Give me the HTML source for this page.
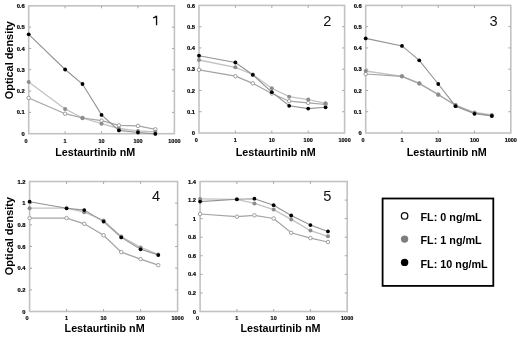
<!DOCTYPE html>
<html><head><meta charset="utf-8"><style>
html,body{margin:0;padding:0;background:#fff;}
body{width:520px;height:337px;overflow:hidden;}
svg{display:block;filter:blur(0.35px);}
text{font-family:"Liberation Sans", sans-serif;}
.yt{font-size:5.8px;font-weight:bold;text-anchor:end;fill:#000;stroke:#000;stroke-width:0.2px;}
.xt{font-size:5.5px;font-weight:bold;text-anchor:middle;fill:#000;stroke:#000;stroke-width:0.15px;}
.num{font-size:14.6px;text-anchor:middle;fill:#111;}
.xl{font-size:10.75px;font-weight:bold;text-anchor:middle;fill:#000;}
.yl{font-size:10.9px;font-weight:bold;text-anchor:middle;fill:#000;}
.lg{font-size:10.8px;font-weight:bold;fill:#000;}
</style></head><body>
<svg width="520" height="337" viewBox="0 0 520 337">
<rect x="28.7" y="5.8" width="145.7" height="127.9" fill="none" stroke="#c2c2c2" stroke-width="1.6"/>
<text x="24.7" y="135.8" class="yt">0</text>
<line x1="28.7" y1="112.38" x2="31.2" y2="112.38" stroke="#a8a8a8" stroke-width="1"/>
<line x1="174.4" y1="112.38" x2="171.9" y2="112.38" stroke="#a8a8a8" stroke-width="1"/>
<text x="24.7" y="114.48" class="yt">0.1</text>
<line x1="28.7" y1="91.07" x2="31.2" y2="91.07" stroke="#a8a8a8" stroke-width="1"/>
<line x1="174.4" y1="91.07" x2="171.9" y2="91.07" stroke="#a8a8a8" stroke-width="1"/>
<text x="24.7" y="93.17" class="yt">0.2</text>
<line x1="28.7" y1="69.75" x2="31.2" y2="69.75" stroke="#a8a8a8" stroke-width="1"/>
<line x1="174.4" y1="69.75" x2="171.9" y2="69.75" stroke="#a8a8a8" stroke-width="1"/>
<text x="24.7" y="71.85" class="yt">0.3</text>
<line x1="28.7" y1="48.43" x2="31.2" y2="48.43" stroke="#a8a8a8" stroke-width="1"/>
<line x1="174.4" y1="48.43" x2="171.9" y2="48.43" stroke="#a8a8a8" stroke-width="1"/>
<text x="24.7" y="50.53" class="yt">0.4</text>
<line x1="28.7" y1="27.12" x2="31.2" y2="27.12" stroke="#a8a8a8" stroke-width="1"/>
<line x1="174.4" y1="27.12" x2="171.9" y2="27.12" stroke="#a8a8a8" stroke-width="1"/>
<text x="24.7" y="29.22" class="yt">0.5</text>
<text x="24.7" y="7.9" class="yt">0.6</text>
<text x="26.1" y="142.6" class="xt">0</text>
<line x1="65.12" y1="133.7" x2="65.12" y2="131.2" stroke="#a8a8a8" stroke-width="1"/>
<line x1="65.12" y1="5.8" x2="65.12" y2="8.3" stroke="#a8a8a8" stroke-width="1"/>
<text x="65.12" y="142.6" class="xt">1</text>
<line x1="101.55" y1="133.7" x2="101.55" y2="131.2" stroke="#a8a8a8" stroke-width="1"/>
<line x1="101.55" y1="5.8" x2="101.55" y2="8.3" stroke="#a8a8a8" stroke-width="1"/>
<text x="101.55" y="142.6" class="xt">10</text>
<line x1="137.97" y1="133.7" x2="137.97" y2="131.2" stroke="#a8a8a8" stroke-width="1"/>
<line x1="137.97" y1="5.8" x2="137.97" y2="8.3" stroke="#a8a8a8" stroke-width="1"/>
<text x="137.97" y="142.6" class="xt">100</text>
<text x="174.4" y="142.6" class="xt">1000</text>
<polyline points="28.7,81.9 65.12,108.9 82.5,118 101.55,123.7 118.93,128.5 137.97,130.9 155.35,131.8" fill="none" stroke="#c2c2c2" stroke-width="1.3"/>
<polyline points="28.7,98 65.12,113.7 82.5,118 101.55,120.7 118.93,125.4 137.97,125.9 155.35,129.3" fill="none" stroke="#a4a4a4" stroke-width="1.25"/>
<polyline points="28.7,34.3 65.12,69.5 82.5,84 101.55,114.9 118.93,130.4 137.97,132.5 155.35,133.9" fill="none" stroke="#929292" stroke-width="1.1"/>
<circle cx="28.7" cy="98" r="1.75" fill="#fff" stroke="#999" stroke-width="0.95"/>
<circle cx="65.12" cy="113.7" r="1.75" fill="#fff" stroke="#999" stroke-width="0.95"/>
<circle cx="82.5" cy="118" r="1.75" fill="#fff" stroke="#999" stroke-width="0.95"/>
<circle cx="101.55" cy="120.7" r="1.75" fill="#fff" stroke="#999" stroke-width="0.95"/>
<circle cx="118.93" cy="125.4" r="1.75" fill="#fff" stroke="#999" stroke-width="0.95"/>
<circle cx="137.97" cy="125.9" r="1.75" fill="#fff" stroke="#999" stroke-width="0.95"/>
<circle cx="155.35" cy="129.3" r="1.75" fill="#fff" stroke="#999" stroke-width="0.95"/>
<circle cx="28.7" cy="81.9" r="2" fill="#8c8c8c"/>
<circle cx="65.12" cy="108.9" r="2" fill="#8c8c8c"/>
<circle cx="82.5" cy="118" r="2" fill="#8c8c8c"/>
<circle cx="101.55" cy="123.7" r="2" fill="#8c8c8c"/>
<circle cx="118.93" cy="128.5" r="2" fill="#8c8c8c"/>
<circle cx="137.97" cy="130.9" r="2" fill="#8c8c8c"/>
<circle cx="155.35" cy="131.8" r="2" fill="#8c8c8c"/>
<circle cx="28.7" cy="34.3" r="1.9" fill="#000"/>
<circle cx="65.12" cy="69.5" r="1.9" fill="#000"/>
<circle cx="82.5" cy="84" r="1.9" fill="#000"/>
<circle cx="101.55" cy="114.9" r="1.9" fill="#000"/>
<circle cx="118.93" cy="130.4" r="1.9" fill="#000"/>
<circle cx="137.97" cy="132.5" r="1.9" fill="#000"/>
<circle cx="155.35" cy="133.9" r="1.9" fill="#000"/>
<path d="M156.55,25.2V15.7M156.5,15.9C155.9,17.1 154.7,17.7 153.1,17.95" fill="none" stroke="#111" stroke-width="1.35"/>
<rect x="199" y="5.4" width="145.6" height="127.6" fill="none" stroke="#c2c2c2" stroke-width="1.6"/>
<text x="195" y="135.1" class="yt">0</text>
<line x1="199" y1="111.73" x2="201.5" y2="111.73" stroke="#a8a8a8" stroke-width="1"/>
<line x1="344.6" y1="111.73" x2="342.1" y2="111.73" stroke="#a8a8a8" stroke-width="1"/>
<text x="195" y="113.83" class="yt">0.1</text>
<line x1="199" y1="90.47" x2="201.5" y2="90.47" stroke="#a8a8a8" stroke-width="1"/>
<line x1="344.6" y1="90.47" x2="342.1" y2="90.47" stroke="#a8a8a8" stroke-width="1"/>
<text x="195" y="92.57" class="yt">0.2</text>
<line x1="199" y1="69.2" x2="201.5" y2="69.2" stroke="#a8a8a8" stroke-width="1"/>
<line x1="344.6" y1="69.2" x2="342.1" y2="69.2" stroke="#a8a8a8" stroke-width="1"/>
<text x="195" y="71.3" class="yt">0.3</text>
<line x1="199" y1="47.93" x2="201.5" y2="47.93" stroke="#a8a8a8" stroke-width="1"/>
<line x1="344.6" y1="47.93" x2="342.1" y2="47.93" stroke="#a8a8a8" stroke-width="1"/>
<text x="195" y="50.03" class="yt">0.4</text>
<line x1="199" y1="26.67" x2="201.5" y2="26.67" stroke="#a8a8a8" stroke-width="1"/>
<line x1="344.6" y1="26.67" x2="342.1" y2="26.67" stroke="#a8a8a8" stroke-width="1"/>
<text x="195" y="28.77" class="yt">0.5</text>
<text x="195" y="7.5" class="yt">0.6</text>
<text x="196.4" y="141.9" class="xt">0</text>
<line x1="235.4" y1="133" x2="235.4" y2="130.5" stroke="#a8a8a8" stroke-width="1"/>
<line x1="235.4" y1="5.4" x2="235.4" y2="7.9" stroke="#a8a8a8" stroke-width="1"/>
<text x="235.4" y="141.9" class="xt">1</text>
<line x1="271.8" y1="133" x2="271.8" y2="130.5" stroke="#a8a8a8" stroke-width="1"/>
<line x1="271.8" y1="5.4" x2="271.8" y2="7.9" stroke="#a8a8a8" stroke-width="1"/>
<text x="271.8" y="141.9" class="xt">10</text>
<line x1="308.2" y1="133" x2="308.2" y2="130.5" stroke="#a8a8a8" stroke-width="1"/>
<line x1="308.2" y1="5.4" x2="308.2" y2="7.9" stroke="#a8a8a8" stroke-width="1"/>
<text x="308.2" y="141.9" class="xt">100</text>
<text x="344.6" y="141.9" class="xt">1000</text>
<polyline points="199,60 235.4,67.3 252.77,74.5 271.8,88.3 289.17,96.7 308.2,99.6 325.57,103.3" fill="none" stroke="#c2c2c2" stroke-width="1.3"/>
<polyline points="199,69.8 235.4,76.2 252.77,83.3 271.8,93.5 289.17,101.2 308.2,102.9 325.57,104.5" fill="none" stroke="#a4a4a4" stroke-width="1.25"/>
<polyline points="199,55.7 235.4,62.5 252.77,74.8 271.8,92.2 289.17,105.8 308.2,108.6 325.57,107.3" fill="none" stroke="#929292" stroke-width="1.1"/>
<circle cx="199" cy="69.8" r="1.75" fill="#fff" stroke="#999" stroke-width="0.95"/>
<circle cx="235.4" cy="76.2" r="1.75" fill="#fff" stroke="#999" stroke-width="0.95"/>
<circle cx="252.77" cy="83.3" r="1.75" fill="#fff" stroke="#999" stroke-width="0.95"/>
<circle cx="271.8" cy="93.5" r="1.75" fill="#fff" stroke="#999" stroke-width="0.95"/>
<circle cx="289.17" cy="101.2" r="1.75" fill="#fff" stroke="#999" stroke-width="0.95"/>
<circle cx="308.2" cy="102.9" r="1.75" fill="#fff" stroke="#999" stroke-width="0.95"/>
<circle cx="325.57" cy="104.5" r="1.75" fill="#fff" stroke="#999" stroke-width="0.95"/>
<circle cx="199" cy="60" r="2" fill="#8c8c8c"/>
<circle cx="235.4" cy="67.3" r="2" fill="#8c8c8c"/>
<circle cx="252.77" cy="74.5" r="2" fill="#8c8c8c"/>
<circle cx="271.8" cy="88.3" r="2" fill="#8c8c8c"/>
<circle cx="289.17" cy="96.7" r="2" fill="#8c8c8c"/>
<circle cx="308.2" cy="99.6" r="2" fill="#8c8c8c"/>
<circle cx="325.57" cy="103.3" r="2" fill="#8c8c8c"/>
<circle cx="199" cy="55.7" r="1.9" fill="#000"/>
<circle cx="235.4" cy="62.5" r="1.9" fill="#000"/>
<circle cx="252.77" cy="74.8" r="1.9" fill="#000"/>
<circle cx="271.8" cy="92.2" r="1.9" fill="#000"/>
<circle cx="289.17" cy="105.8" r="1.9" fill="#000"/>
<circle cx="308.2" cy="108.6" r="1.9" fill="#000"/>
<circle cx="325.57" cy="107.3" r="1.9" fill="#000"/>
<text x="327.3" y="25.6" class="num">2</text>
<rect x="365.7" y="5.4" width="145.1" height="127.6" fill="none" stroke="#c2c2c2" stroke-width="1.6"/>
<text x="361.7" y="135.1" class="yt">0</text>
<line x1="365.7" y1="111.73" x2="368.2" y2="111.73" stroke="#a8a8a8" stroke-width="1"/>
<line x1="510.8" y1="111.73" x2="508.3" y2="111.73" stroke="#a8a8a8" stroke-width="1"/>
<text x="361.7" y="113.83" class="yt">0.1</text>
<line x1="365.7" y1="90.47" x2="368.2" y2="90.47" stroke="#a8a8a8" stroke-width="1"/>
<line x1="510.8" y1="90.47" x2="508.3" y2="90.47" stroke="#a8a8a8" stroke-width="1"/>
<text x="361.7" y="92.57" class="yt">0.2</text>
<line x1="365.7" y1="69.2" x2="368.2" y2="69.2" stroke="#a8a8a8" stroke-width="1"/>
<line x1="510.8" y1="69.2" x2="508.3" y2="69.2" stroke="#a8a8a8" stroke-width="1"/>
<text x="361.7" y="71.3" class="yt">0.3</text>
<line x1="365.7" y1="47.93" x2="368.2" y2="47.93" stroke="#a8a8a8" stroke-width="1"/>
<line x1="510.8" y1="47.93" x2="508.3" y2="47.93" stroke="#a8a8a8" stroke-width="1"/>
<text x="361.7" y="50.03" class="yt">0.4</text>
<line x1="365.7" y1="26.67" x2="368.2" y2="26.67" stroke="#a8a8a8" stroke-width="1"/>
<line x1="510.8" y1="26.67" x2="508.3" y2="26.67" stroke="#a8a8a8" stroke-width="1"/>
<text x="361.7" y="28.77" class="yt">0.5</text>
<text x="361.7" y="7.5" class="yt">0.6</text>
<text x="363.1" y="141.9" class="xt">0</text>
<line x1="401.98" y1="133" x2="401.98" y2="130.5" stroke="#a8a8a8" stroke-width="1"/>
<line x1="401.98" y1="5.4" x2="401.98" y2="7.9" stroke="#a8a8a8" stroke-width="1"/>
<text x="401.98" y="141.9" class="xt">1</text>
<line x1="438.25" y1="133" x2="438.25" y2="130.5" stroke="#a8a8a8" stroke-width="1"/>
<line x1="438.25" y1="5.4" x2="438.25" y2="7.9" stroke="#a8a8a8" stroke-width="1"/>
<text x="438.25" y="141.9" class="xt">10</text>
<line x1="474.52" y1="133" x2="474.52" y2="130.5" stroke="#a8a8a8" stroke-width="1"/>
<line x1="474.52" y1="5.4" x2="474.52" y2="7.9" stroke="#a8a8a8" stroke-width="1"/>
<text x="474.52" y="141.9" class="xt">100</text>
<text x="510.8" y="141.9" class="xt">1000</text>
<polyline points="365.7,71 401.98,76.3 419.28,83.6 438.25,94.7 455.56,105 474.52,112.5 491.83,115" fill="none" stroke="#c2c2c2" stroke-width="1.3"/>
<polyline points="365.7,74 401.98,76.3 419.28,83.3 438.25,94.5 455.56,105.5 474.52,113 491.83,115.5" fill="none" stroke="#a4a4a4" stroke-width="1.25"/>
<polyline points="365.7,38.4 401.98,45.9 419.28,60.3 438.25,84 455.56,106.2 474.52,113.8 491.83,116" fill="none" stroke="#929292" stroke-width="1.1"/>
<circle cx="365.7" cy="74" r="1.75" fill="#fff" stroke="#999" stroke-width="0.95"/>
<circle cx="401.98" cy="76.3" r="1.75" fill="#fff" stroke="#999" stroke-width="0.95"/>
<circle cx="419.28" cy="83.3" r="1.75" fill="#fff" stroke="#999" stroke-width="0.95"/>
<circle cx="438.25" cy="94.5" r="1.75" fill="#fff" stroke="#999" stroke-width="0.95"/>
<circle cx="455.56" cy="105.5" r="1.75" fill="#fff" stroke="#999" stroke-width="0.95"/>
<circle cx="474.52" cy="113" r="1.75" fill="#fff" stroke="#999" stroke-width="0.95"/>
<circle cx="491.83" cy="115.5" r="1.75" fill="#fff" stroke="#999" stroke-width="0.95"/>
<circle cx="365.7" cy="71" r="2" fill="#8c8c8c"/>
<circle cx="401.98" cy="76.3" r="2" fill="#8c8c8c"/>
<circle cx="419.28" cy="83.6" r="2" fill="#8c8c8c"/>
<circle cx="438.25" cy="94.7" r="2" fill="#8c8c8c"/>
<circle cx="455.56" cy="105" r="2" fill="#8c8c8c"/>
<circle cx="474.52" cy="112.5" r="2" fill="#8c8c8c"/>
<circle cx="491.83" cy="115" r="2" fill="#8c8c8c"/>
<circle cx="365.7" cy="38.4" r="1.9" fill="#000"/>
<circle cx="401.98" cy="45.9" r="1.9" fill="#000"/>
<circle cx="419.28" cy="60.3" r="1.9" fill="#000"/>
<circle cx="438.25" cy="84" r="1.9" fill="#000"/>
<circle cx="455.56" cy="106.2" r="1.9" fill="#000"/>
<circle cx="474.52" cy="113.8" r="1.9" fill="#000"/>
<circle cx="491.83" cy="116" r="1.9" fill="#000"/>
<text x="493.5" y="25.6" class="num">3</text>
<rect x="29.6" y="181.5" width="148" height="130" fill="none" stroke="#c2c2c2" stroke-width="1.6"/>
<text x="25.6" y="313.6" class="yt">0</text>
<line x1="29.6" y1="289.83" x2="32.1" y2="289.83" stroke="#a8a8a8" stroke-width="1"/>
<line x1="177.6" y1="289.83" x2="175.1" y2="289.83" stroke="#a8a8a8" stroke-width="1"/>
<text x="25.6" y="291.93" class="yt">0.2</text>
<line x1="29.6" y1="268.17" x2="32.1" y2="268.17" stroke="#a8a8a8" stroke-width="1"/>
<line x1="177.6" y1="268.17" x2="175.1" y2="268.17" stroke="#a8a8a8" stroke-width="1"/>
<text x="25.6" y="270.27" class="yt">0.4</text>
<line x1="29.6" y1="246.5" x2="32.1" y2="246.5" stroke="#a8a8a8" stroke-width="1"/>
<line x1="177.6" y1="246.5" x2="175.1" y2="246.5" stroke="#a8a8a8" stroke-width="1"/>
<text x="25.6" y="248.6" class="yt">0.6</text>
<line x1="29.6" y1="224.83" x2="32.1" y2="224.83" stroke="#a8a8a8" stroke-width="1"/>
<line x1="177.6" y1="224.83" x2="175.1" y2="224.83" stroke="#a8a8a8" stroke-width="1"/>
<text x="25.6" y="226.93" class="yt">0.8</text>
<line x1="29.6" y1="203.17" x2="32.1" y2="203.17" stroke="#a8a8a8" stroke-width="1"/>
<line x1="177.6" y1="203.17" x2="175.1" y2="203.17" stroke="#a8a8a8" stroke-width="1"/>
<text x="25.6" y="205.27" class="yt">1</text>
<text x="25.6" y="183.6" class="yt">1.2</text>
<text x="27" y="320.4" class="xt">0</text>
<line x1="66.6" y1="311.5" x2="66.6" y2="309" stroke="#a8a8a8" stroke-width="1"/>
<line x1="66.6" y1="181.5" x2="66.6" y2="184" stroke="#a8a8a8" stroke-width="1"/>
<text x="66.6" y="320.4" class="xt">1</text>
<line x1="103.6" y1="311.5" x2="103.6" y2="309" stroke="#a8a8a8" stroke-width="1"/>
<line x1="103.6" y1="181.5" x2="103.6" y2="184" stroke="#a8a8a8" stroke-width="1"/>
<text x="103.6" y="320.4" class="xt">10</text>
<line x1="140.6" y1="311.5" x2="140.6" y2="309" stroke="#a8a8a8" stroke-width="1"/>
<line x1="140.6" y1="181.5" x2="140.6" y2="184" stroke="#a8a8a8" stroke-width="1"/>
<text x="140.6" y="320.4" class="xt">100</text>
<text x="177.6" y="320.4" class="xt">1000</text>
<polyline points="29.6,208.2 66.6,208.2 84.25,212.2 103.6,220.5 121.25,236.5 140.6,247.4 158.25,254.4" fill="none" stroke="#c2c2c2" stroke-width="1.3"/>
<polyline points="29.6,218.1 66.6,218.1 84.25,223.8 103.6,235.3 121.25,252.1 140.6,259.1 158.25,265.2" fill="none" stroke="#a4a4a4" stroke-width="1.25"/>
<polyline points="29.6,201.7 66.6,208.3 84.25,210.1 103.6,221.6 121.25,237.4 140.6,249.3 158.25,255.1" fill="none" stroke="#929292" stroke-width="1.1"/>
<circle cx="29.6" cy="218.1" r="1.75" fill="#fff" stroke="#999" stroke-width="0.95"/>
<circle cx="66.6" cy="218.1" r="1.75" fill="#fff" stroke="#999" stroke-width="0.95"/>
<circle cx="84.25" cy="223.8" r="1.75" fill="#fff" stroke="#999" stroke-width="0.95"/>
<circle cx="103.6" cy="235.3" r="1.75" fill="#fff" stroke="#999" stroke-width="0.95"/>
<circle cx="121.25" cy="252.1" r="1.75" fill="#fff" stroke="#999" stroke-width="0.95"/>
<circle cx="140.6" cy="259.1" r="1.75" fill="#fff" stroke="#999" stroke-width="0.95"/>
<circle cx="158.25" cy="265.2" r="1.75" fill="#fff" stroke="#999" stroke-width="0.95"/>
<circle cx="29.6" cy="208.2" r="2" fill="#8c8c8c"/>
<circle cx="66.6" cy="208.2" r="2" fill="#8c8c8c"/>
<circle cx="84.25" cy="212.2" r="2" fill="#8c8c8c"/>
<circle cx="103.6" cy="220.5" r="2" fill="#8c8c8c"/>
<circle cx="121.25" cy="236.5" r="2" fill="#8c8c8c"/>
<circle cx="140.6" cy="247.4" r="2" fill="#8c8c8c"/>
<circle cx="158.25" cy="254.4" r="2" fill="#8c8c8c"/>
<circle cx="29.6" cy="201.7" r="1.9" fill="#000"/>
<circle cx="66.6" cy="208.3" r="1.9" fill="#000"/>
<circle cx="84.25" cy="210.1" r="1.9" fill="#000"/>
<circle cx="103.6" cy="221.6" r="1.9" fill="#000"/>
<circle cx="121.25" cy="237.4" r="1.9" fill="#000"/>
<circle cx="140.6" cy="249.3" r="1.9" fill="#000"/>
<circle cx="158.25" cy="255.1" r="1.9" fill="#000"/>
<text x="156" y="201.2" class="num">4</text>
<rect x="200.1" y="181.5" width="147.1" height="130" fill="none" stroke="#c2c2c2" stroke-width="1.6"/>
<text x="196.1" y="313.6" class="yt">0</text>
<line x1="200.1" y1="292.93" x2="202.6" y2="292.93" stroke="#a8a8a8" stroke-width="1"/>
<line x1="347.2" y1="292.93" x2="344.7" y2="292.93" stroke="#a8a8a8" stroke-width="1"/>
<text x="196.1" y="295.03" class="yt">0.2</text>
<line x1="200.1" y1="274.36" x2="202.6" y2="274.36" stroke="#a8a8a8" stroke-width="1"/>
<line x1="347.2" y1="274.36" x2="344.7" y2="274.36" stroke="#a8a8a8" stroke-width="1"/>
<text x="196.1" y="276.46" class="yt">0.4</text>
<line x1="200.1" y1="255.79" x2="202.6" y2="255.79" stroke="#a8a8a8" stroke-width="1"/>
<line x1="347.2" y1="255.79" x2="344.7" y2="255.79" stroke="#a8a8a8" stroke-width="1"/>
<text x="196.1" y="257.89" class="yt">0.6</text>
<line x1="200.1" y1="237.21" x2="202.6" y2="237.21" stroke="#a8a8a8" stroke-width="1"/>
<line x1="347.2" y1="237.21" x2="344.7" y2="237.21" stroke="#a8a8a8" stroke-width="1"/>
<text x="196.1" y="239.31" class="yt">0.8</text>
<line x1="200.1" y1="218.64" x2="202.6" y2="218.64" stroke="#a8a8a8" stroke-width="1"/>
<line x1="347.2" y1="218.64" x2="344.7" y2="218.64" stroke="#a8a8a8" stroke-width="1"/>
<text x="196.1" y="220.74" class="yt">1</text>
<line x1="200.1" y1="200.07" x2="202.6" y2="200.07" stroke="#a8a8a8" stroke-width="1"/>
<line x1="347.2" y1="200.07" x2="344.7" y2="200.07" stroke="#a8a8a8" stroke-width="1"/>
<text x="196.1" y="202.17" class="yt">1.2</text>
<text x="196.1" y="183.6" class="yt">1.4</text>
<text x="197.5" y="320.4" class="xt">0</text>
<line x1="236.88" y1="311.5" x2="236.88" y2="309" stroke="#a8a8a8" stroke-width="1"/>
<line x1="236.88" y1="181.5" x2="236.88" y2="184" stroke="#a8a8a8" stroke-width="1"/>
<text x="236.88" y="320.4" class="xt">1</text>
<line x1="273.65" y1="311.5" x2="273.65" y2="309" stroke="#a8a8a8" stroke-width="1"/>
<line x1="273.65" y1="181.5" x2="273.65" y2="184" stroke="#a8a8a8" stroke-width="1"/>
<text x="273.65" y="320.4" class="xt">10</text>
<line x1="310.42" y1="311.5" x2="310.42" y2="309" stroke="#a8a8a8" stroke-width="1"/>
<line x1="310.42" y1="181.5" x2="310.42" y2="184" stroke="#a8a8a8" stroke-width="1"/>
<text x="310.42" y="320.4" class="xt">100</text>
<text x="347.2" y="320.4" class="xt">1000</text>
<polyline points="200.1,198.9 236.88,199.3 254.42,203.4 273.65,209.6 291.2,219.4 310.42,230.6 327.97,236.3" fill="none" stroke="#c2c2c2" stroke-width="1.3"/>
<polyline points="200.1,214 236.88,216.7 254.42,215.3 273.65,218.5 291.2,232.8 310.42,238.1 327.97,242" fill="none" stroke="#a4a4a4" stroke-width="1.25"/>
<polyline points="200.1,201.6 236.88,199.3 254.42,198.7 273.65,205.2 291.2,215.5 310.42,225.1 327.97,231.4" fill="none" stroke="#929292" stroke-width="1.1"/>
<circle cx="200.1" cy="214" r="1.75" fill="#fff" stroke="#999" stroke-width="0.95"/>
<circle cx="236.88" cy="216.7" r="1.75" fill="#fff" stroke="#999" stroke-width="0.95"/>
<circle cx="254.42" cy="215.3" r="1.75" fill="#fff" stroke="#999" stroke-width="0.95"/>
<circle cx="273.65" cy="218.5" r="1.75" fill="#fff" stroke="#999" stroke-width="0.95"/>
<circle cx="291.2" cy="232.8" r="1.75" fill="#fff" stroke="#999" stroke-width="0.95"/>
<circle cx="310.42" cy="238.1" r="1.75" fill="#fff" stroke="#999" stroke-width="0.95"/>
<circle cx="327.97" cy="242" r="1.75" fill="#fff" stroke="#999" stroke-width="0.95"/>
<circle cx="200.1" cy="198.9" r="2" fill="#8c8c8c"/>
<circle cx="236.88" cy="199.3" r="2" fill="#8c8c8c"/>
<circle cx="254.42" cy="203.4" r="2" fill="#8c8c8c"/>
<circle cx="273.65" cy="209.6" r="2" fill="#8c8c8c"/>
<circle cx="291.2" cy="219.4" r="2" fill="#8c8c8c"/>
<circle cx="310.42" cy="230.6" r="2" fill="#8c8c8c"/>
<circle cx="327.97" cy="236.3" r="2" fill="#8c8c8c"/>
<circle cx="200.1" cy="201.6" r="1.9" fill="#000"/>
<circle cx="236.88" cy="199.3" r="1.9" fill="#000"/>
<circle cx="254.42" cy="198.7" r="1.9" fill="#000"/>
<circle cx="273.65" cy="205.2" r="1.9" fill="#000"/>
<circle cx="291.2" cy="215.5" r="1.9" fill="#000"/>
<circle cx="310.42" cy="225.1" r="1.9" fill="#000"/>
<circle cx="327.97" cy="231.4" r="1.9" fill="#000"/>
<text x="327.2" y="201.2" class="num">5</text>
<text x="95.2" y="156.4" class="xl">Lestaurtinib nM</text>
<text x="275.8" y="156.4" class="xl">Lestaurtinib nM</text>
<text x="446.8" y="156.4" class="xl">Lestaurtinib nM</text>
<text x="104.6" y="331.8" class="xl">Lestaurtinib nM</text>
<text x="280.4" y="331.8" class="xl">Lestaurtinib nM</text>
<text transform="translate(12.5,60.2) rotate(-90)" class="yl">Optical density</text>
<text transform="translate(12.5,236.1) rotate(-90)" class="yl">Optical density</text>
<rect x="382.6" y="198.5" width="110.7" height="87.4" fill="none" stroke="#000" stroke-width="1.8"/>
<circle cx="404.6" cy="215.9" r="3.2" fill="#fff" stroke="#111" stroke-width="1.3"/>
<circle cx="404.6" cy="239.1" r="3.7" fill="#7e7e7e"/>
<circle cx="404.6" cy="262.4" r="3.7" fill="#000"/>
<text x="420.5" y="220.6" class="lg">FL: 0 ng/mL</text>
<text x="420.5" y="244.4" class="lg">FL: 1 ng/mL</text>
<text x="420.5" y="267.6" class="lg">FL: 10 ng/mL</text>
</svg>
</body></html>
